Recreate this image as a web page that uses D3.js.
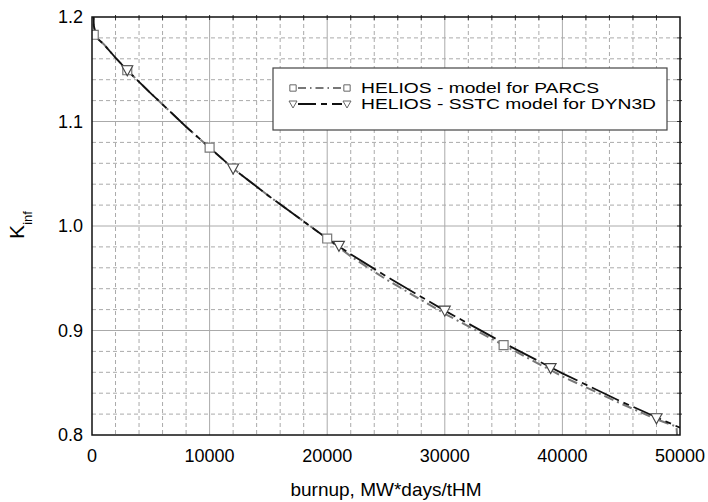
<!DOCTYPE html>
<html>
<head>
<meta charset="utf-8">
<script src="https://cdn.jsdelivr.net/npm/d3@7"></script>
<style>
  body { margin: 0; background: #fff; }
  svg { display: block; font-family: Arial, 'Liberation Sans', sans-serif; }
</style>
</head>
<body>
<div id="root"></div>
<script>
// burnup values (MW*days/tHM) and K_inf for both models
const parcsX = [0, 150, 400, 1000, 2000, 3000, 5000, 8000, 10000, 12000, 15000, 20000, 22000, 25000, 30000, 35000, 40000, 45000, 48000, 49700, 49750];
const parcsY = [1.27, 1.190, 1.180, 1.174, 1.161, 1.149, 1.127, 1.095, 1.075, 1.055, 1.029, 0.988, 0.971, 0.949, 0.916, 0.886, 0.856, 0.830, 0.815, 0.808, 0.800];

const dyn3dX = [0, 150, 400, 1000, 2000, 3000, 5000, 8000, 10000, 12000, 15000, 20000, 22000, 25000, 30000, 35000, 40000, 45000, 48000, 50000];
const dyn3dY = [1.30, 1.192, 1.180, 1.174, 1.161, 1.149, 1.127, 1.095, 1.075, 1.055, 1.029, 0.988, 0.973, 0.952, 0.919, 0.888, 0.859, 0.832, 0.817, 0.807];

// marker positions
const parcsMarkX = [150, 3000, 10000, 20000, 35000];
const parcsMarkY = [1.183, 1.149, 1.075, 0.988, 0.886];
const dyn3dMarkX = [3000, 12000, 21000, 30000, 39000, 48000];
const dyn3dMarkY = [1.149, 1.055, 0.981, 0.919, 0.864, 0.816];

const xTicks = [0, 10000, 20000, 30000, 40000, 50000];
const yTicks = [0.8, 0.9, 1.0, 1.1, 1.2];
const legendLabels = ['HELIOS - model for PARCS', 'HELIOS - SSTC model for DYN3D'];

const width = 708;
const height = 502;
const plot = { left: 92, right: 680, top: 17, bottom: 435 };

const svg = d3.select('#root').append('svg')
  .attr('width', width)
  .attr('height', height);

const x = d3.scaleLinear().domain([0, 50000]).range([plot.left, plot.right]);
const y = d3.scaleLinear().domain([0.8, 1.2]).range([plot.bottom, plot.top]);

// grid
const xMinor = d3.range(2000, 50000, 2000).filter(d => d % 10000 !== 0);
const yMinor = d3.range(1, 20).map(i => 0.8 + i * 0.02).filter((d, i) => (i + 1) % 5 !== 0);
const grid = svg.append('g');

grid.selectAll('.xminor').data(xMinor).enter().append('line')
  .attr('x1', d => x(d)).attr('x2', d => x(d))
  .attr('y1', plot.top).attr('y2', plot.bottom)
  .attr('stroke', '#aaa').attr('stroke-dasharray', '4,3');
grid.selectAll('.yminor').data(yMinor).enter().append('line')
  .attr('x1', plot.left).attr('x2', plot.right)
  .attr('y1', d => y(d)).attr('y2', d => y(d))
  .attr('stroke', '#aaa').attr('stroke-dasharray', '4,3');
grid.selectAll('.xmajor').data(xTicks.slice(1, -1)).enter().append('line')
  .attr('x1', d => x(d)).attr('x2', d => x(d))
  .attr('y1', plot.top).attr('y2', plot.bottom)
  .attr('stroke', '#aaa');
grid.selectAll('.ymajor').data(yTicks.slice(1, -1)).enter().append('line')
  .attr('x1', plot.left).attr('x2', plot.right)
  .attr('y1', d => y(d)).attr('y2', d => y(d))
  .attr('stroke', '#aaa');

// small ticks on top and right edges
const allX = d3.range(2000, 50000, 2000);
const allY = d3.range(1, 20).map(i => 0.8 + i * 0.02);
grid.selectAll('.ttick').data(allX).enter().append('line')
  .attr('x1', d => x(d)).attr('x2', d => x(d))
  .attr('y1', plot.top - 2).attr('y2', plot.top + 3)
  .attr('stroke', '#333');
grid.selectAll('.rtick').data(allY).enter().append('line')
  .attr('x1', plot.right - 3).attr('x2', plot.right + 2)
  .attr('y1', d => y(d)).attr('y2', d => y(d))
  .attr('stroke', '#333');

// curves
svg.append('clipPath').attr('id', 'clip')
  .append('rect')
  .attr('x', plot.left).attr('y', plot.top)
  .attr('width', plot.right - plot.left).attr('height', plot.bottom - plot.top);

const line = d3.line()
  .x(d => x(d[0]))
  .y(d => y(d[1]));

const curves = svg.append('g').attr('clip-path', 'url(#clip)');

curves.append('path')
  .datum(d3.zip(parcsX, parcsY))
  .attr('d', line)
  .attr('fill', 'none')
  .attr('stroke', '#777')
  .attr('stroke-width', 2)
  .attr('stroke-dasharray', '10,4,2,4');

curves.append('path')
  .datum(d3.zip(dyn3dX, dyn3dY))
  .attr('d', line)
  .attr('fill', 'none')
  .attr('stroke', '#111')
  .attr('stroke-width', 1.8)
  .attr('stroke-dasharray', '30,5,6,5');

// markers
const square = d3.symbol().type(d3.symbolSquare).size(80);
const triangle = 'M-5.5,-4.5L5.5,-4.5L0,5.5Z';

curves.selectAll('.sq').data(d3.zip(parcsMarkX, parcsMarkY)).enter().append('path')
  .attr('d', square)
  .attr('transform', d => `translate(${x(d[0])},${y(d[1])})`)
  .attr('fill', '#fff').attr('stroke', '#777').attr('stroke-width', 1.2);

curves.selectAll('.tri').data(d3.zip(dyn3dMarkX, dyn3dMarkY)).enter().append('path')
  .attr('d', triangle)
  .attr('transform', d => `translate(${x(d[0])},${y(d[1])})`)
  .attr('fill', '#fff').attr('stroke', '#444').attr('stroke-width', 1.1);

// frame
svg.append('rect')
  .attr('x', plot.left).attr('y', plot.top)
  .attr('width', plot.right - plot.left).attr('height', plot.bottom - plot.top)
  .attr('fill', 'none').attr('stroke', '#111').attr('stroke-width', 1.5);

// axes labels
svg.selectAll('.xlab').data(xTicks).enter().append('text')
  .attr('x', d => x(d)).attr('y', plot.bottom + 27)
  .attr('text-anchor', 'middle')
  .attr('font-size', 18)
  .text(d => d);

svg.selectAll('.ylab').data(yTicks).enter().append('text')
  .attr('x', plot.left - 9).attr('y', d => y(d) + 6)
  .attr('text-anchor', 'end')
  .attr('font-size', 18)
  .text(d => d3.format('.1f')(d));

svg.append('text')
  .attr('x', 386).attr('y', 496)
  .attr('text-anchor', 'middle')
  .attr('font-size', 19)
  .text('burnup, MW*days/tHM');

const yTitle = svg.append('text')
  .attr('transform', 'translate(24,225) rotate(-90)')
  .attr('text-anchor', 'middle')
  .attr('font-size', 21);
yTitle.append('tspan').text('K');
yTitle.append('tspan').attr('font-size', 13).attr('dy', 8).text('inf');

// legend
const legend = svg.append('g');
legend.append('rect')
  .attr('x', 273).attr('y', 68).attr('width', 394).attr('height', 62)
  .attr('fill', '#fff').attr('stroke', '#444').attr('stroke-width', 1.2);

const legendRows = [
  { y: 88, stroke: '#777', dash: '8,4,1.5,4', marker: 'sq', len: 238 },
  { y: 104, stroke: '#111', dash: '18,5,6,5', marker: 'tri', len: 295 },
];
legendRows.forEach((r, i) => {
  legend.append('line')
    .attr('x1', 298).attr('x2', 342).attr('y1', r.y).attr('y2', r.y)
    .attr('stroke', r.stroke).attr('stroke-width', 1.8)
    .attr('stroke-dasharray', r.dash);
  [293, 347].forEach(mx => {
    legend.append('path')
      .attr('d', r.marker === 'sq' ? d3.symbol().type(d3.symbolSquare).size(40)() : 'M-4,-3L4,-3L0,4Z')
      .attr('transform', `translate(${mx},${r.y})`)
      .attr('fill', '#fff').attr('stroke', '#666').attr('stroke-width', 1);
  });
  legend.append('text')
    .attr('x', 361).attr('y', r.y + 5)
    .attr('font-size', 14)
    .attr('textLength', r.len)
    .attr('lengthAdjust', 'spacingAndGlyphs')
    .text(legendLabels[i]);
});
</script>
</body>
</html>
